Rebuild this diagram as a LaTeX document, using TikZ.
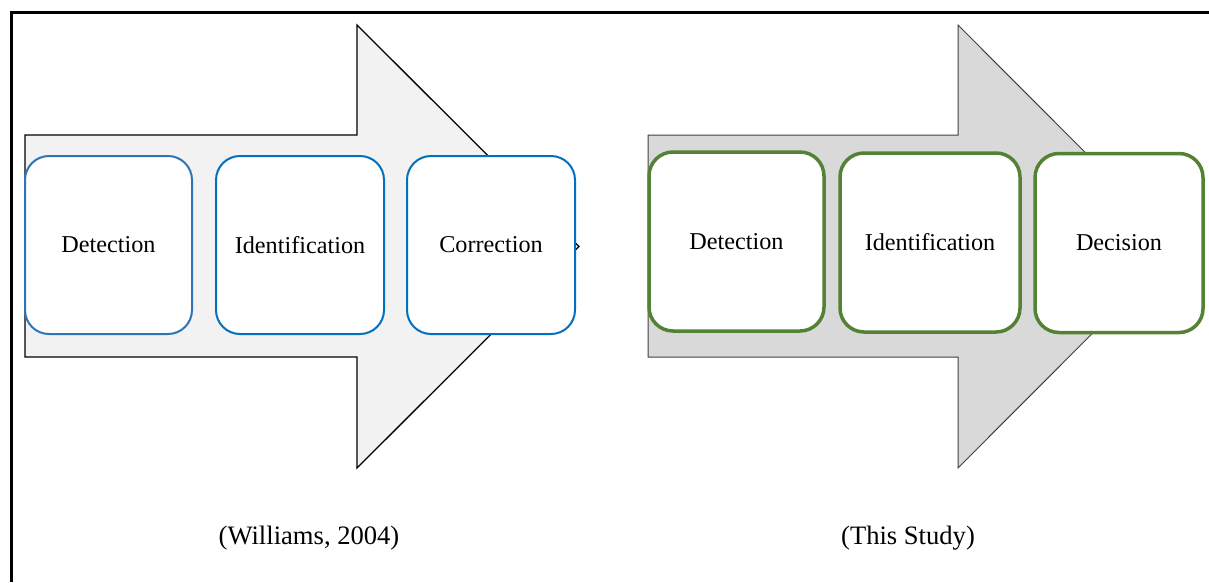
\documentclass[tikz,border=0pt]{standalone}
\usepackage{fontspec}
\setmainfont{Liberation Serif}
\definecolor{boxblue}{RGB}{46,117,182}
\definecolor{boxbright}{RGB}{0,112,192}
\definecolor{boxgreen}{RGB}{84,130,53}
\definecolor{lightfill}{RGB}{242,242,242}
\definecolor{darkfill}{RGB}{217,217,217}
\begin{document}
\begin{tikzpicture}[x=1pt,y=-1pt,
  bluebox/.style={draw=boxblue,line width=2pt,fill=white,rounded corners=24pt,
    minimum height=178pt,inner sep=0pt,font=\fontsize{24.2}{29}\selectfont},
  greenbox/.style={draw=boxgreen,line width=3.5pt,fill=white,rounded corners=24pt,
    minimum height=179pt,inner sep=0pt,font=\fontsize{24.2}{29}\selectfont},
  caption/.style={inner sep=0pt,font=\fontsize{26.6}{32}\selectfont},
  bigarrow/.style={line width=1.3pt,line join=miter}]
\useasboundingbox (0,0) rectangle (1209,582);
% frame
\draw[line width=3pt] (11,582) -- (11,12) -- (1209,12);
% left arrow
\draw[bigarrow,draw=black,fill=lightfill] (25,135) -- (357,135) -- (357,25) -- (579,246.5) -- (357,468) -- (357,357) -- (25,357) -- cycle;
% right arrow
\draw[bigarrow,draw=black!75,line width=1pt,fill=darkfill] (648,135) -- (958,135) -- (958,25) -- (1179,246.5) -- (958,468) -- (958,357) -- (648,357) -- cycle;
% left boxes
\node[bluebox,minimum width=167pt] (ldet) at (108.5,245) {Detection};
\node[bluebox,draw=boxbright,minimum width=168pt] (lid) at (300,245) {Identification};
\node[bluebox,draw=boxbright,minimum width=168pt] (lcor) at (491,245) {Correction};
% right boxes
\node[greenbox,minimum width=175pt] (rdet) at (736.5,241.5) {Detection};
\node[greenbox,minimum width=180pt] (rid) at (930,242.5) {Identification};
\node[greenbox,minimum width=168pt] (rdec) at (1119,243) {Decision};
% captions
\node[caption] (capl) at (309,538) {(Williams, 2004)};
\node[caption] (capr) at (908,538) {(This Study)};
\end{tikzpicture}
\end{document}
